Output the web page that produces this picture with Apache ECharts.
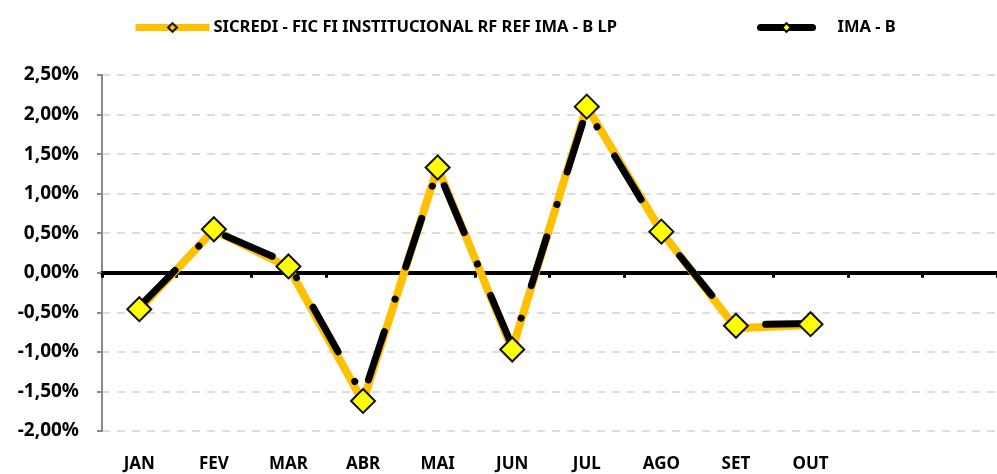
<!DOCTYPE html>
<html lang="pt">
<head>
  <meta charset="UTF-8">
  <title>SICREDI x IMA-B</title>
  <script src="https://cdn.jsdelivr.net/npm/echarts@6/dist/echarts.min.js"></script>
  <style>
    html, body { margin: 0; padding: 0; background: #fff; }
    #chart { width: 997px; height: 474px; }
  </style>
</head>
<body>
  <div id="chart"></div>
<script>
  // meses (NOV e DEZ sem rótulo, como no original)
  const months = ["JAN", "FEV", "MAR", "ABR", "MAI", "JUN", "JUL", "AGO", "SET", "OUT", "", ""];
  const fundName = "SICREDI - FIC FI INSTITUCIONAL RF REF IMA - B LP";
  const indexName = "IMA - B";
  // rentabilidade mensal em %
  const fundValues = [-0.46, 0.54, 0.07, -1.63, 1.33, -0.97, 2.10, 0.52, -0.70, -0.66];
  const indexValues = [-0.43, 0.53, 0.12, -1.56, 1.30, -0.93, 2.06, 0.50, -0.66, -0.64];
  const markerValues = [-0.46, 0.55, 0.08, -1.62, 1.33, -0.97, 2.10, 0.52, -0.67, -0.65];

  const font = "'Noto Sans', sans-serif";
  const chart = echarts.init(document.getElementById("chart"));

  const option = {
    animation: false,
    legend: [
      {
        data: [{ name: fundName, lineStyle: { width: 7 } }],
        left: 127, top: 14,
        itemWidth: 74, itemHeight: 11,
        textStyle: { fontFamily: font, fontWeight: "bold", fontSize: 16.5, color: "#000", padding: [0, 0, 0, -1] }
      },
      {
        data: [{ name: indexName, lineStyle: { type: "solid", width: 7 } }],
        left: 752, top: 14,
        itemWidth: 52, itemHeight: 11,
        textStyle: { fontFamily: font, fontWeight: "bold", fontSize: 16.5, color: "#000", padding: [0, 0, 0, 20] }
      }
    ],
    grid: { left: 102, right: 0, top: 75, bottom: 43, containLabel: false },
    xAxis: [
      {
        type: "category",
        data: months,
        position: "bottom",
        boundaryGap: true,
        axisLine: { show: false, onZero: false },
        axisTick: { show: false },
        axisLabel: { fontFamily: font, fontWeight: "bold", fontSize: 17, color: "#000", margin: 25, interval: 0 },
        splitLine: { show: false }
      },
      {
        type: "category",
        data: months,
        position: "bottom",
        boundaryGap: true,
        axisLine: { show: true, onZero: true, lineStyle: { color: "#000", width: 4 } },
        axisTick: { show: true, length: 5, lineStyle: { color: "#000", width: 3 } },
        axisLabel: { show: false },
        splitLine: { show: false }
      }
    ],
    yAxis: {
      type: "value",
      min: -2, max: 2.5, interval: 0.5,
      axisLine: { show: true, lineStyle: { color: "#8a8a8a", width: 2 } },
      axisTick: { show: true, length: 5, lineStyle: { color: "#8a8a8a", width: 2 } },
      axisLabel: {
        fontFamily: font, fontWeight: "bold", fontSize: 19, color: "#000", margin: 23,
        formatter: (v) => v.toFixed(2).replace(".", ",") + "%"
      },
      splitLine: { show: true, lineStyle: { color: "#dcdcdc", width: 2, type: [8, 7] } }
    },
    series: [
      {
        name: fundName,
        type: "line",
        data: fundValues,
        z: 2,
        symbol: "diamond",
        symbolSize: 11,
        showSymbol: false,
        itemStyle: { color: "#FFC000", borderColor: "#111", borderWidth: 1.5 },
        lineStyle: { color: "#FFC000", width: 8 }
      },
      {
        name: indexName,
        type: "line",
        data: indexValues,
        z: 3,
        symbol: "diamond",
        symbolSize: 11,
        showSymbol: false,
        itemStyle: { color: "#FFFF00", borderColor: "#000", borderWidth: 1 },
        lineStyle: { color: "#000", width: 7, type: [51, 34, 0.1, 34], cap: "round" }
      },
      {
        name: "marcadores",
        type: "scatter",
        data: markerValues,
        z: 4,
        symbol: "diamond",
        symbolSize: 24,
        itemStyle: { color: "#FFFF00", borderColor: "#111", borderWidth: 2, opacity: 1 }
      }
    ]
  };

  chart.setOption(option);
</script>
</body>
</html>
